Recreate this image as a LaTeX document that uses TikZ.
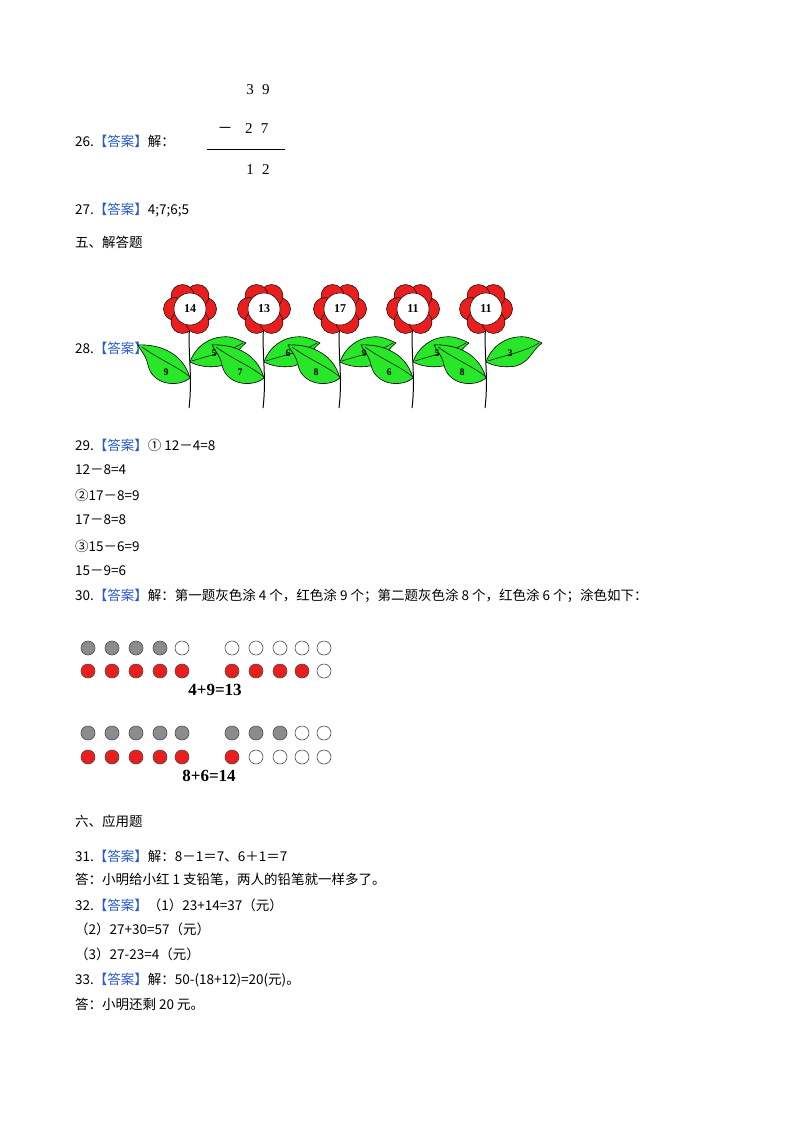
\documentclass[tikz,border=0pt]{standalone}
\usepackage{fontspec}
\setmainfont{Carlito}
\newfontfamily\cjk{Noto Sans CJK SC}
\newfontfamily\tnr{Liberation Serif}
\definecolor{ansblue}{RGB}{40,90,200}
\definecolor{pred}{RGB}{235,30,30}
\definecolor{lgreen}{RGB}{40,230,40}
\begin{document}
\begin{tikzpicture}[x=1pt,y=-1pt,
  txt/.style={anchor=west,inner sep=0pt,font=\fontsize{13.5}{15}\selectfont\cjk},
  dot/.style={circle,draw=black!70,line width=0.6pt,minimum size=14pt,inner sep=0pt},
  gd/.style={dot,fill=gray!90},
  rd/.style={dot,fill=pred},
  wd/.style={dot,fill=white},
  eq/.style={font=\fontsize{17}{19}\selectfont\tnr\bfseries,inner sep=0pt},
  lf/.style={draw=black,fill=lgreen,line width=0.6pt},
  ln/.style={font=\fontsize{10}{11}\selectfont\tnr\bfseries,inner sep=0pt},
  sub/.style={font=\fontsize{15}{16}\selectfont\tnr,inner sep=0pt}]
\useasboundingbox (0,0) rectangle (800,1132);
\newcommand{\ans}{{\color{ansblue}【答案】}}
% 26
\node[txt] (t26) at (75,141) {26.\ans 解：};
\node[sub] (a1) at (258,90) {3\;\;9};
\node[sub] (a2) at (243,129) {{\cjk －}\;\;\;2\;\;7};
\draw[line width=0.6pt] (207,149) -- (285,149);
\node[sub] (a3) at (258,170) {1\;\;2};
\node[txt] (t27) at (75,210) {27.\ans 4;7;6;5};
\node[txt] (t5) at (75,242) {五、解答题};
\node[txt] (t28) at (75,348) {28.\ans};
% flowers: stems and leaves
\foreach \cx in {190,264,340,413,486}{
  \draw[line width=1pt] (\cx,322) .. controls (\cx-3,350) and (\cx+3,375) .. (\cx-1,408);
  \draw[lf] (\cx,378) .. controls (\cx-12,388) and (\cx-38,385) .. (\cx-42,365)
     .. controls (\cx-44,355) and (\cx-50,350) .. (\cx-52,345)
     .. controls (\cx-35,344) and (\cx-8,350) .. (\cx,378) -- cycle;
  \draw[line width=0.5pt] (\cx-48,347) .. controls (\cx-30,360) and (\cx-15,365) .. (\cx,377);
  \draw[lf] (\cx,362) .. controls (\cx+6,345) and (\cx+22,335) .. (\cx+40,337)
     .. controls (\cx+45,338) and (\cx+50,340) .. (\cx+56,343)
     .. controls (\cx+46,350) and (\cx+44,362) .. (\cx+30,366)
     .. controls (\cx+18,368) and (\cx+8,366) .. (\cx,362) -- cycle;
  \draw[line width=0.5pt] (\cx+2,361) .. controls (\cx+20,355) and (\cx+38,352) .. (\cx+53,343);
}
% heads and numbers
\foreach \cx/\n/\l/\r in {190/14/9/5,264/13/7/6,340/17/8/9,413/11/6/5,486/11/8/3}{
  \node[ln] at (\cx-24,372) {\l};
  \node[ln] at (\cx+24,353) {\r};
  \foreach \a in {0,60,...,300}{
    \fill[pred,draw=black,line width=0.5pt] ([shift={(\a:15pt)}]\cx,309) circle (11.5pt);}
  \node[circle,fill=white,draw=black,line width=0.5pt,minimum size=32pt,inner sep=0pt,font=\fontsize{12}{12}\selectfont\tnr\bfseries] at (\cx,309) {\n};
}
\node[txt] (t29) at (75,445) {29.\ans ① 12－4=8};
\node[txt] at (75,470) {12－8=4};
\node[txt] at (75,495) {②17－8=9};
\node[txt] at (75,520) {17－8=8};
\node[txt] at (75,546) {③15－6=9};
\node[txt] at (75,571) {15－9=6};
\node[txt] (t30) at (75,596) {30.\ans 解：第一题灰色涂 4 个，红色涂 9 个；第二题灰色涂 8 个，红色涂 6 个；涂色如下：};
% dots
\foreach \x/\s [count=\i] in {88/gd,112/gd,136/gd,160/gd,182/wd,232/wd,256/wd,280/wd,302/wd,324/wd}{\node[\s] (r1\i) at (\x,648) {};}
\foreach \x/\s [count=\i] in {88/rd,112/rd,136/rd,160/rd,182/rd,232/rd,256/rd,280/rd,302/rd,324/wd}{\node[\s] (r2\i) at (\x,671) {};}
\node[eq] (e1) at (215,690) {4+9=13};
\foreach \x/\s [count=\i] in {88/gd,112/gd,136/gd,160/gd,182/gd,232/gd,256/gd,280/gd,302/wd,324/wd}{\node[\s] (r3\i) at (\x,733) {};}
\foreach \x/\s [count=\i] in {88/rd,112/rd,136/rd,160/rd,182/rd,232/rd,256/wd,280/wd,302/wd,324/wd}{\node[\s] (r4\i) at (\x,757) {};}
\node[eq] (e2) at (209,776) {8+6=14};
\node[txt] (t6) at (75,821) {六、应用题};
\node[txt] (t31) at (75,856) {31.\ans 解：8－1＝7、6＋1＝7};
\node[txt] at (75,880) {答：小明给小红 1 支铅笔，两人的铅笔就一样多了。};
\node[txt] (t32) at (75,905) {32.\ans（1）23+14=37（元）};
\node[txt] at (75,929) {（2）27+30=57（元）};
\node[txt] at (75,954) {（3）27-23=4（元）};
\node[txt] (t33) at (75,980) {33.\ans 解：50-(18+12)=20(元)。};
\node[txt] at (75,1004) {答：小明还剩 20 元。};
\end{tikzpicture}
\end{document}
